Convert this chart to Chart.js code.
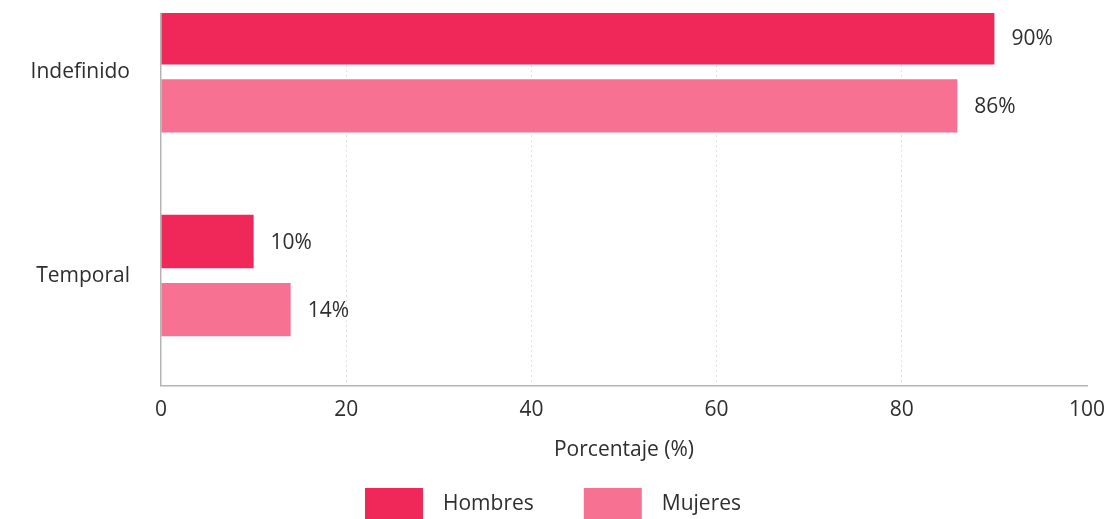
<!DOCTYPE html>
<html><head><meta charset="utf-8">
<script src="https://cdn.jsdelivr.net/npm/chart.js@4"></script>
<style>
html,body{margin:0;padding:0;background:#fff;overflow:hidden;width:1113px;height:519px;}
#clip{position:absolute;left:0;top:13px;width:1113px;height:506px;overflow:hidden;}
#wrap{position:absolute;left:0;top:-43px;width:1113px;height:562px;}
</style></head><body>
<div id="clip"><div id="wrap"><canvas id="c" width="1113" height="562"></canvas></div></div>
<script>
// Contract type by sex, share of employees (%)
const categories = ['Indefinido', 'Temporal'];
const hombres = [90, 10];
const mujeres = [86, 14];
const seriesNames = ['Hombres', 'Mujeres'];
const seriesColors = ['#F0285A', '#F77192'];
const axisTitle = 'Porcentaje (%)';
const xMin = 0, xMax = 100, xStep = 20;

const FONT = '"Open Sans", "DejaVu Sans", sans-serif';
const TEXT = '#2e2e2e';

// points {x: value, y: category index} for the horizontal bars
const toPoints = arr => arr.map((v, i) => ({ x: v, y: i }));

// Value labels at the end of each bar
const barLabels = {
  id: 'barLabels',
  afterDatasetsDraw(chart) {
    const ctx = chart.ctx;
    ctx.save();
    ctx.font = '21px ' + FONT;
    ctx.fillStyle = TEXT;
    ctx.textAlign = 'left';
    ctx.textBaseline = 'middle';
    chart.data.datasets.forEach((ds, i) => {
      chart.getDatasetMeta(i).data.forEach((el, j) => {
        ctx.fillText(ds.data[j].x + '%', el.x + 17, el.y + 1);
      });
    });
    ctx.restore();
  }
};

// Legend row drawn under the axis title
const bottomLegend = {
  id: 'bottomLegend',
  afterDraw(chart) {
    const ctx = chart.ctx;
    const boxW = 58, boxH = 32, gapText = 20, gapItem = 50;
    ctx.save();
    ctx.font = '21px ' + FONT;
    const items = chart.data.datasets.map(ds => ({
      label: ds.label, color: ds.backgroundColor, w: ctx.measureText(ds.label).width
    }));
    let total = 0;
    items.forEach((it, k) => { total += boxW + gapText + it.w + (k < items.length - 1 ? gapItem : 0); });
    let x = 553 - total / 2;
    const top = chart.height - 44;
    items.forEach(it => {
      ctx.fillStyle = it.color;
      ctx.fillRect(x, top, boxW, boxH);
      x += boxW + gapText;
      ctx.fillStyle = TEXT;
      ctx.textAlign = 'left';
      ctx.textBaseline = 'middle';
      ctx.fillText(it.label, x, top + boxH / 2);
      x += it.w + gapItem;
    });
    ctx.restore();
  }
};

new Chart(document.getElementById('c'), {
  type: 'bar',
  data: {
    datasets: [
      { label: seriesNames[0], data: toPoints(hombres), backgroundColor: seriesColors[0] },
      { label: seriesNames[1], data: toPoints(mujeres), backgroundColor: seriesColors[1] }
    ]
  },
  options: {
    indexAxis: 'y',
    responsive: false,
    animation: false,
    layout: { padding: { left: 0, right: 26, top: 0, bottom: 58 } },
    datasets: { bar: { categoryPercentage: 0.668, barPercentage: 0.785 } },
    plugins: { legend: { display: false }, tooltip: { enabled: false } },
    scales: {
      x: {
        type: 'linear',
        min: xMin, max: xMax,
        afterFit(scale) {
          scale.paddingLeft = 0;
          scale.paddingRight = 0;
        },
        ticks: { stepSize: xStep, padding: 12, color: TEXT, font: { family: FONT, size: 21 } },
        grid: {
          drawTicks: false,
          color: c => (c.tick && (c.tick.value === xMin || c.tick.value === xMax)) ? 'rgba(0,0,0,0)' : '#e2e2e2',
          lineWidth: 1
        },
        border: { color: '#b4b4b4', width: 1.5, dash: [2, 3] },
        title: {
          display: true, text: axisTitle, color: TEXT,
          font: { family: FONT, size: 21 }, padding: { top: 3, bottom: 11 }
        }
      },
      y: {
        type: 'linear',
        reverse: true,
        offset: false,
        min: -0.5, max: 1.54,
        afterBuildTicks(scale) {
          scale.ticks = categories.map((_, i) => ({ value: i }));
        },
        afterFit(scale) {
          scale.width = 161;
          scale.paddingTop = 0;
          scale.paddingBottom = 0;
        },
        ticks: {
          padding: 31, color: TEXT, font: { family: FONT, size: 21 },
          callback: v => categories[v]
        },
        grid: { display: false, drawTicks: false, offset: false },
        border: { color: '#b4b4b4', width: 1.5 }
      }
    }
  },
  plugins: [barLabels, bottomLegend]
});
</script>
</body></html>
